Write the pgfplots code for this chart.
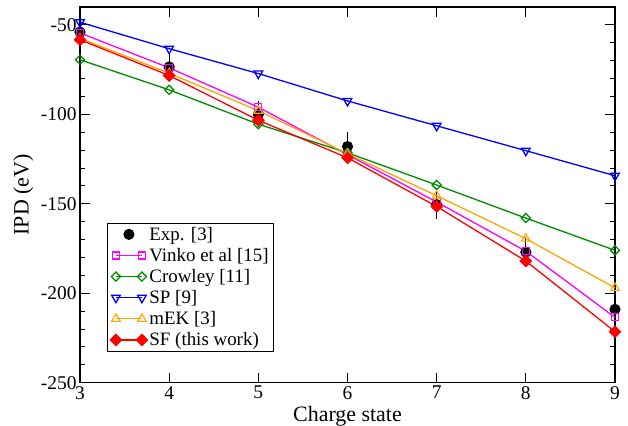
\documentclass[border=0pt]{standalone}
\usepackage{fontspec}
\setmainfont{Liberation Serif}
\usepackage{pgfplots}
\pgfplotsset{compat=1.18}
\definecolor{ggreen}{RGB}{0,139,0}
\definecolor{gorange}{RGB}{255,165,0}
\definecolor{gmagenta}{RGB}{255,0,255}
\pgfplotsset{onemark/.style={legend image code/.code={\draw[##1] plot coordinates {(13bp,0bp)};}}}
\begin{document}
\begin{tikzpicture}
\begin{axis}[
  scale only axis, width=535bp, height=375.7bp,
  xmin=3, xmax=9, ymin=-250, ymax=-40,
  xtick={3,4,5,6,7,8,9}, ytick={-250,-200,-150,-100,-50},
  minor y tick num=4,
  tick align=inside, major tick length=10bp, minor tick length=5bp,
  axis line style={line width=1.3bp},
  every tick/.style={black, line width=1bp},
  /pgf/number format/assume math mode=true,
  tick label style={font=\fontsize{19.5}{21}\selectfont},
  xlabel={Charge state}, ylabel={IPD (eV)},
  label style={font=\fontsize{22}{24}\selectfont},
  xlabel style={at={(axis description cs:0.5,0)}, anchor=base, yshift=-39bp},
  ylabel style={at={(axis description cs:-0.1058,0.5)}, anchor=center},
  legend style={at={(axis description cs:0.0505,0.426)}, anchor=north west,
    draw=black, line width=0.8bp, font=\fontsize{19}{21}\selectfont, row sep=2.5bp},
  legend cell align=left,
  legend image code/.code={\draw[#1] plot coordinates {(0bp,0bp) (26bp,0bp)};},
  every axis plot/.append style={line width=1.3bp, mark options={solid, line width=1.1bp}},
]
\addplot[only marks, black, mark=*, mark size=5bp, onemark,
  error bars/.cd, y dir=both, y explicit,
  error bar style={black, line width=1.1bp},
  error mark options={black, mark size=6bp, line width=1.1bp}]
  coordinates {(3,-54) +- (0,4) (4,-73.5) +- (0,4) (5,-100) +- (0,4)
  (6,-118) +- (0,4.5) (7,-150.5) +- (0,4.5) (8,-177) +- (0,5) (9,-209) +- (0,6)};
\addlegendentry{Exp. [3]}
\addplot[gmagenta, mark=square, mark size=3.5bp]
  coordinates {(3,-54.5) (4,-74) (5,-96) (6,-122.5) (7,-149) (8,-176.5) (9,-213.5)};
\addlegendentry{Vinko et al [15]}
\addplot[ggreen, mark=square, mark size=3.2bp, mark options={rotate=45}]
  coordinates {(3,-69.5) (4,-86.3) (5,-105.5) (6,-121.5) (7,-139.5) (8,-158) (9,-176)};
\addlegendentry{Crowley [11]}
\addplot[blue, mark=triangle, mark size=5bp, mark options={rotate=180}]
  coordinates {(3,-48.5) (4,-63.3) (5,-77.2) (6,-92.5) (7,-106.4) (8,-120.3) (9,-134.3)};
\addlegendentry{SP [9]}
\addplot[gorange, mark=triangle, mark size=5bp]
  coordinates {(3,-57.5) (4,-77) (5,-98) (6,-122) (7,-145.5) (8,-169.5) (9,-197)};
\addlegendentry{mEK [3]}
\addplot[red, mark=square*, mark size=3.9bp, mark options={rotate=45}]
  coordinates {(3,-58.3) (4,-78.3) (5,-103.3) (6,-124.3) (7,-151.5) (8,-182) (9,-221.5)};
\addlegendentry{SF (this work)}
\end{axis}
\pgfresetboundingbox
\path[use as bounding box] (-80bp,-43.3bp) rectangle (548bp,382.7bp);
\end{tikzpicture}
\end{document}
